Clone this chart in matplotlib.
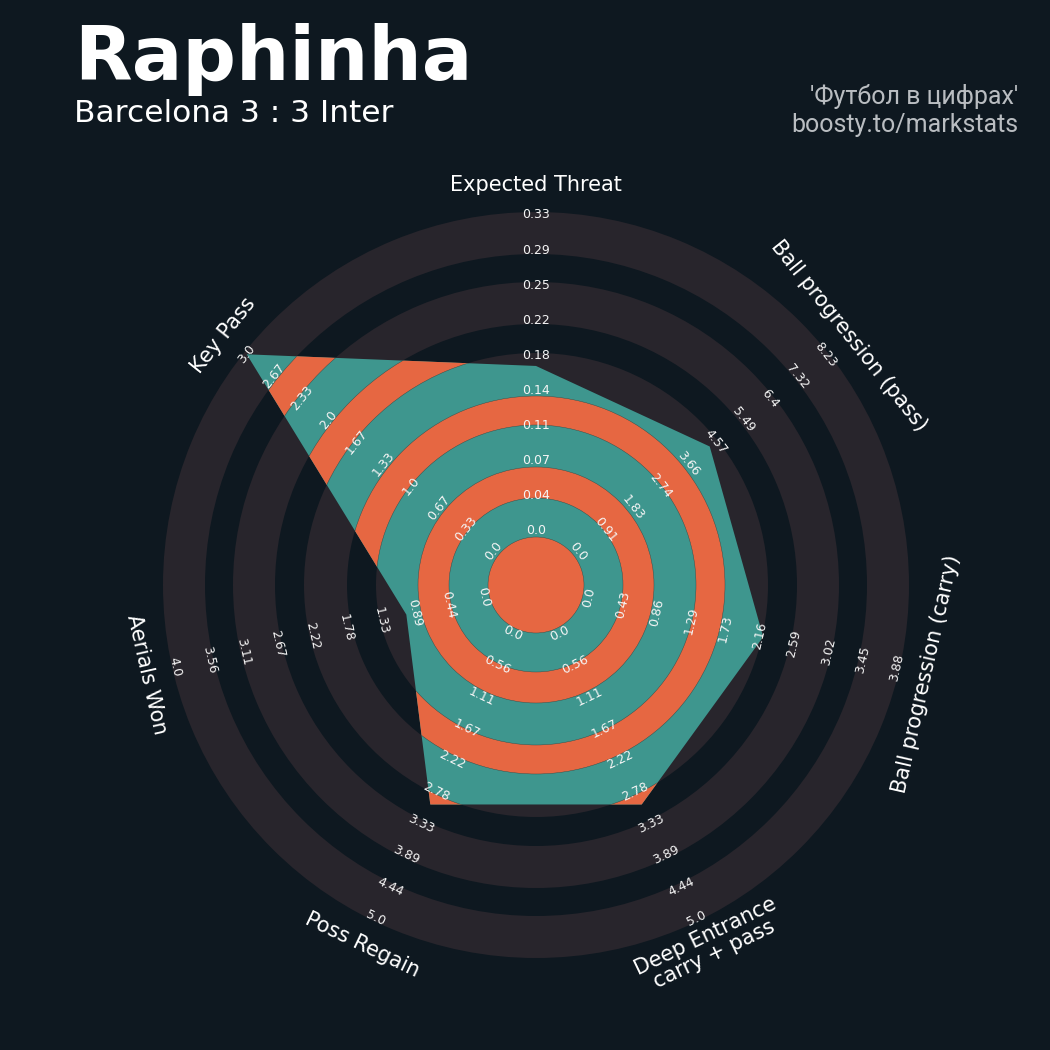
import numpy as np
import matplotlib
matplotlib.use("Agg")
import matplotlib.pyplot as plt
from matplotlib.patches import Polygon, Wedge, Circle

# ---------------- data ----------------
params = ["Expected Threat", "Ball progression (pass)", "Ball progression (carry)",
          "Deep Entrance\ncarry + pass", "Poss Regain", "Aerials Won", "Key Pass"]
low = [0.0, 0.0, 0.0, 0.0, 0.0, 0.0, 0.0]
high = [0.3255, 8.23, 3.883, 5.0, 5.0, 4.0, 3.0]
values = [0.17, 4.38, 2.2, 3.0, 3.0, 1.0, 3.0]

title = "Raphinha"
subtitle = "Barcelona 3 : 3 Inter"
credit1 = "'Футбол в цифрах'"
credit2 = "boosty.to/markstats"

# ---------------- style ----------------
BG = "#0e1820"
RING = "#28252c"
TEAL = "#3e968e"
ORANGE = "#e66742"
N_LABELS = 10
R_LOW, R_HIGH = 54.0, 370.0          # radius of low / high value (axis units = px)
GRAY_BANDS = [(48, 88), (118, 160), (189, 232), (261, 303), (331, 373)]
GAP_BANDS = [(87, 118), (160, 189), (232, 261), (303, 331)]
CENTER_R = 48
CX, CY = 536, 585
W = H = 1050

fig = plt.figure(figsize=(10.5, 10.5), dpi=100, facecolor=BG)
ax = fig.add_axes([0, 0, 1, 1])
ax.set_facecolor(BG)
ax.set_xlim(-CX, W - CX)
ax.set_ylim(-(H - CY), CY)
ax.axis("off")

n = len(params)
angles = np.deg2rad(90 - np.arange(n) * 360.0 / n)


def scale(v, lo, hi):
    return R_LOW + (v - lo) / (hi - lo) * (R_HIGH - R_LOW)


# background rings (skip innermost, hidden by radar)
for r0, r1 in GRAY_BANDS[1:]:
    ax.add_patch(Wedge((0, 0), r1, 0, 360, width=r1 - r0, facecolor=RING,
                       edgecolor="none", zorder=1))

# radar polygon
radii = np.array([scale(v, lo, hi) for v, lo, hi in zip(values, low, high)])
xs = radii * np.cos(angles)
ys = radii * np.sin(angles)
poly = Polygon(np.column_stack([xs, ys]), closed=True, facecolor=TEAL,
               edgecolor="none", zorder=2)
ax.add_patch(poly)

for r0, r1 in GAP_BANDS:
    wdg = Wedge((0, 0), r1, 0, 360, width=r1 - r0, facecolor=ORANGE,
                edgecolor="#2a4a48", linewidth=0.3, zorder=3)
    ax.add_patch(wdg)
    wdg.set_clip_path(poly)
cc = Circle((0, 0), CENTER_R, facecolor=ORANGE, edgecolor="#2a4a48",
            linewidth=0.3, zorder=3)
ax.add_patch(cc)
cc.set_clip_path(poly)


def text_rotation(ang_deg):
    rot = ang_deg - 90
    while rot > 180:
        rot -= 360
    while rot <= -180:
        rot += 360
    if rot < -90:
        rot += 180
    elif rot > 90:
        rot -= 180
    return rot


# range labels
for i in range(n):
    ang = angles[i]
    rot = text_rotation(np.rad2deg(ang))
    labs = np.linspace(low[i], high[i], N_LABELS)
    for k, lv in enumerate(labs):
        r = R_LOW + k * (R_HIGH - R_LOW) / (N_LABELS - 1)
        ax.text(r * np.cos(ang), r * np.sin(ang), str(round(float(lv), 2)),
                rotation=rot, rotation_mode="anchor", ha="center", va="center",
                fontsize=9, color="#f5f5f5", zorder=5)

# parameter labels
R_PARAM = 400
for i in range(n):
    ang = angles[i]
    rot = text_rotation(np.rad2deg(ang))
    ax.text(R_PARAM * np.cos(ang), R_PARAM * np.sin(ang), params[i],
            rotation=rot, rotation_mode="anchor", ha="center", va="center",
            fontsize=15, color="white", zorder=5, linespacing=1.0)

# titles
fig.text(74 / W, 1 - 80 / H, title, fontsize=54, fontweight="bold",
         color="white", ha="left", va="baseline")
fig.text(74 / W, 1 - 122 / H, subtitle, fontsize=22.5, color="white",
         ha="left", va="baseline")
fig.text(1018 / W, 1 - 104 / H, credit1, fontsize=18, family="Roboto",
         color="#b9bdc1", ha="right", va="baseline")
fig.text(1018 / W, 1 - 132 / H, credit2, fontsize=18, family="Roboto",
         color="#b9bdc1", ha="right", va="baseline")

fig.savefig("out.png", dpi=100, facecolor=BG)
